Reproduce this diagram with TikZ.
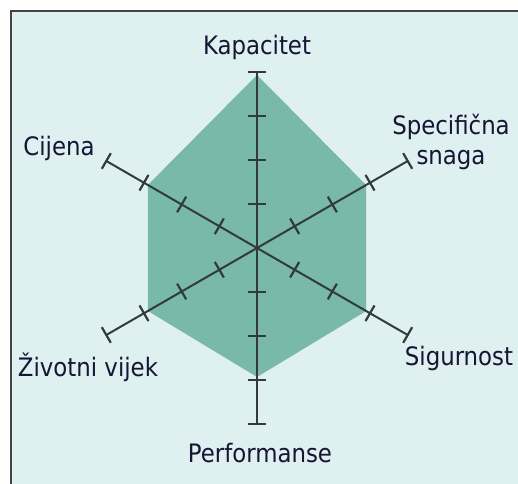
\documentclass[tikz,border=0pt]{standalone}
\usepackage{fontspec}
\setmainfont{DejaVu Sans Condensed}
\usetikzlibrary{calc}
\definecolor{bgc}{HTML}{DFF0F0}
\definecolor{polyc}{HTML}{79B9AA}
\definecolor{axisc}{HTML}{333B3A}
\definecolor{framec}{HTML}{444444}
\definecolor{txtc}{HTML}{151535}
\tikzset{
  axisline/.style={draw=axisc, line width=2bp},
  tickmark/.style={draw=axisc, line width=2.2bp},
  lbl/.style={font=\fontsize{25.5}{30}\selectfont, text=txtc, inner sep=0pt, align=center},
}
\begin{document}
\begin{tikzpicture}[x=1bp,y=1bp]
\useasboundingbox (0,0) rectangle (518,484);
\clip (0,0) rectangle (518,484);
\fill[white] (0,0) rectangle (518,484);
\draw[fill=bgc, draw=framec, line width=2bp] (11,-20) rectangle (545,473);
\coordinate (c) at (257,236);
% polygon
\fill[polyc] ($(c)+(90:173)$) -- ($(c)+(30:126)$) -- ($(c)+(-30:126)$) -- ($(c)+(-90:129)$) -- ($(c)+(210:126)$) -- ($(c)+(150:126)$) -- cycle;
% axis ends
\coordinate (kap) at ($(c)+(90:176)$);
\coordinate (perf) at ($(c)+(-90:176)$);
\coordinate (spec) at ($(c)+(30:174)$);
\coordinate (zivot) at ($(c)+(210:174)$);
\coordinate (cij) at ($(c)+(150:174)$);
\coordinate (sig) at ($(c)+(-30:174)$);
\draw[axisline] (kap) -- (perf);
\draw[axisline] (spec) -- (zivot);
\draw[axisline] (cij) -- (sig);
% ticks
\foreach \a/\s in {90/44, -90/44, 30/43.5, 210/43.5, 150/43.5, -30/43.5}{
  \foreach \k in {1,2,3,4}{
    \draw[tickmark, shift={(c)}, rotate=\a] ({\k*\s},-9) -- ({\k*\s},9);
  }
}
% labels
\node[lbl] (lkap) at (257,436) {Kapacitet};
\node[lbl] (lspec) at (451,342) {Specifična\\snaga};
\node[lbl] (lcij) at (59,336) {Cijena};
\node[lbl] (lziv) at (88,117) {Životni vijek};
\node[lbl] (lsig) at (459,126) {Sigurnost};
\node[lbl] (lperf) at (260,31) {Performanse};
\end{tikzpicture}
\end{document}
